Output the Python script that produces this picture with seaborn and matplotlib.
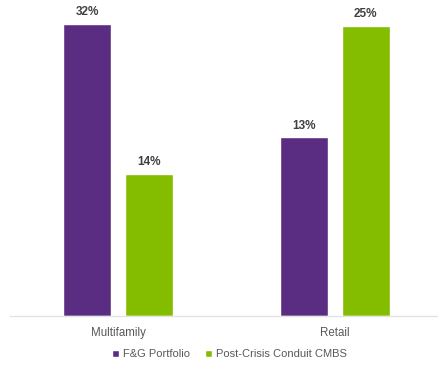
import matplotlib
matplotlib.use("Agg")
import matplotlib.pyplot as plt
import pandas as pd
import seaborn as sns

categories = ["Multifamily", "Retail"]
series = ["F&G Portfolio", "Post-Crisis Conduit CMBS"]
# bar heights as drawn in the reference (not to scale with the labels)
fg_heights = [32.0, 19.6]
cmbs_heights = [15.6, 31.8]
fg_labels = ["32%", "13%"]
cmbs_labels = ["14%", "25%"]

colors = {"F&G Portfolio": "#5a2d82", "Post-Crisis Conduit CMBS": "#84bd00"}
text_gray = "#595959"

df = pd.DataFrame({
    "category": categories * 2,
    "series": [series[0]] * 2 + [series[1]] * 2,
    "value": fg_heights + cmbs_heights,
    "label": fg_labels + cmbs_labels,
})

sns.set_theme(style="white")
plt.rcParams["font.family"] = ["Liberation Sans", "DejaVu Sans"]

fig = plt.figure(figsize=(4.39, 3.65), dpi=100)
ax = fig.add_axes([10 / 439, 49 / 365, 429 / 439, 316 / 365])

sns.barplot(data=df, x="category", y="value", hue="series", palette=colors,
            width=0.567, gap=0.22, saturation=1, ax=ax, legend=True)

# value labels on top of each bar
for container, labels in zip(ax.containers, [fg_labels, cmbs_labels]):
    ax.bar_label(container, labels=labels, padding=4, fontsize=8.5,
                 fontweight="bold", color="#404040")

ax.set_xlim(-0.498, 1.479)
ax.set_ylim(0, 34.63)
ax.set_xlabel("")
ax.set_ylabel("")
ax.set_yticks([])
ax.tick_params(axis="x", length=0, pad=8, labelsize=8.3, labelcolor=text_gray)
for side in ["left", "right", "top"]:
    ax.spines[side].set_visible(False)
ax.spines["bottom"].set_color("#e3e3e3")
ax.spines["bottom"].set_linewidth(1.0)

sns.move_legend(ax, "lower center", bbox_to_anchor=(0.523, -0.012),
                bbox_transform=fig.transFigure, ncol=2, frameon=False,
                title=None, fontsize=8, handlelength=0.6, handleheight=0.6,
                handletextpad=0.35, columnspacing=1.4)
for t in ax.get_legend().get_texts():
    t.set_color(text_gray)

fig.savefig("out.png", dpi=100)
